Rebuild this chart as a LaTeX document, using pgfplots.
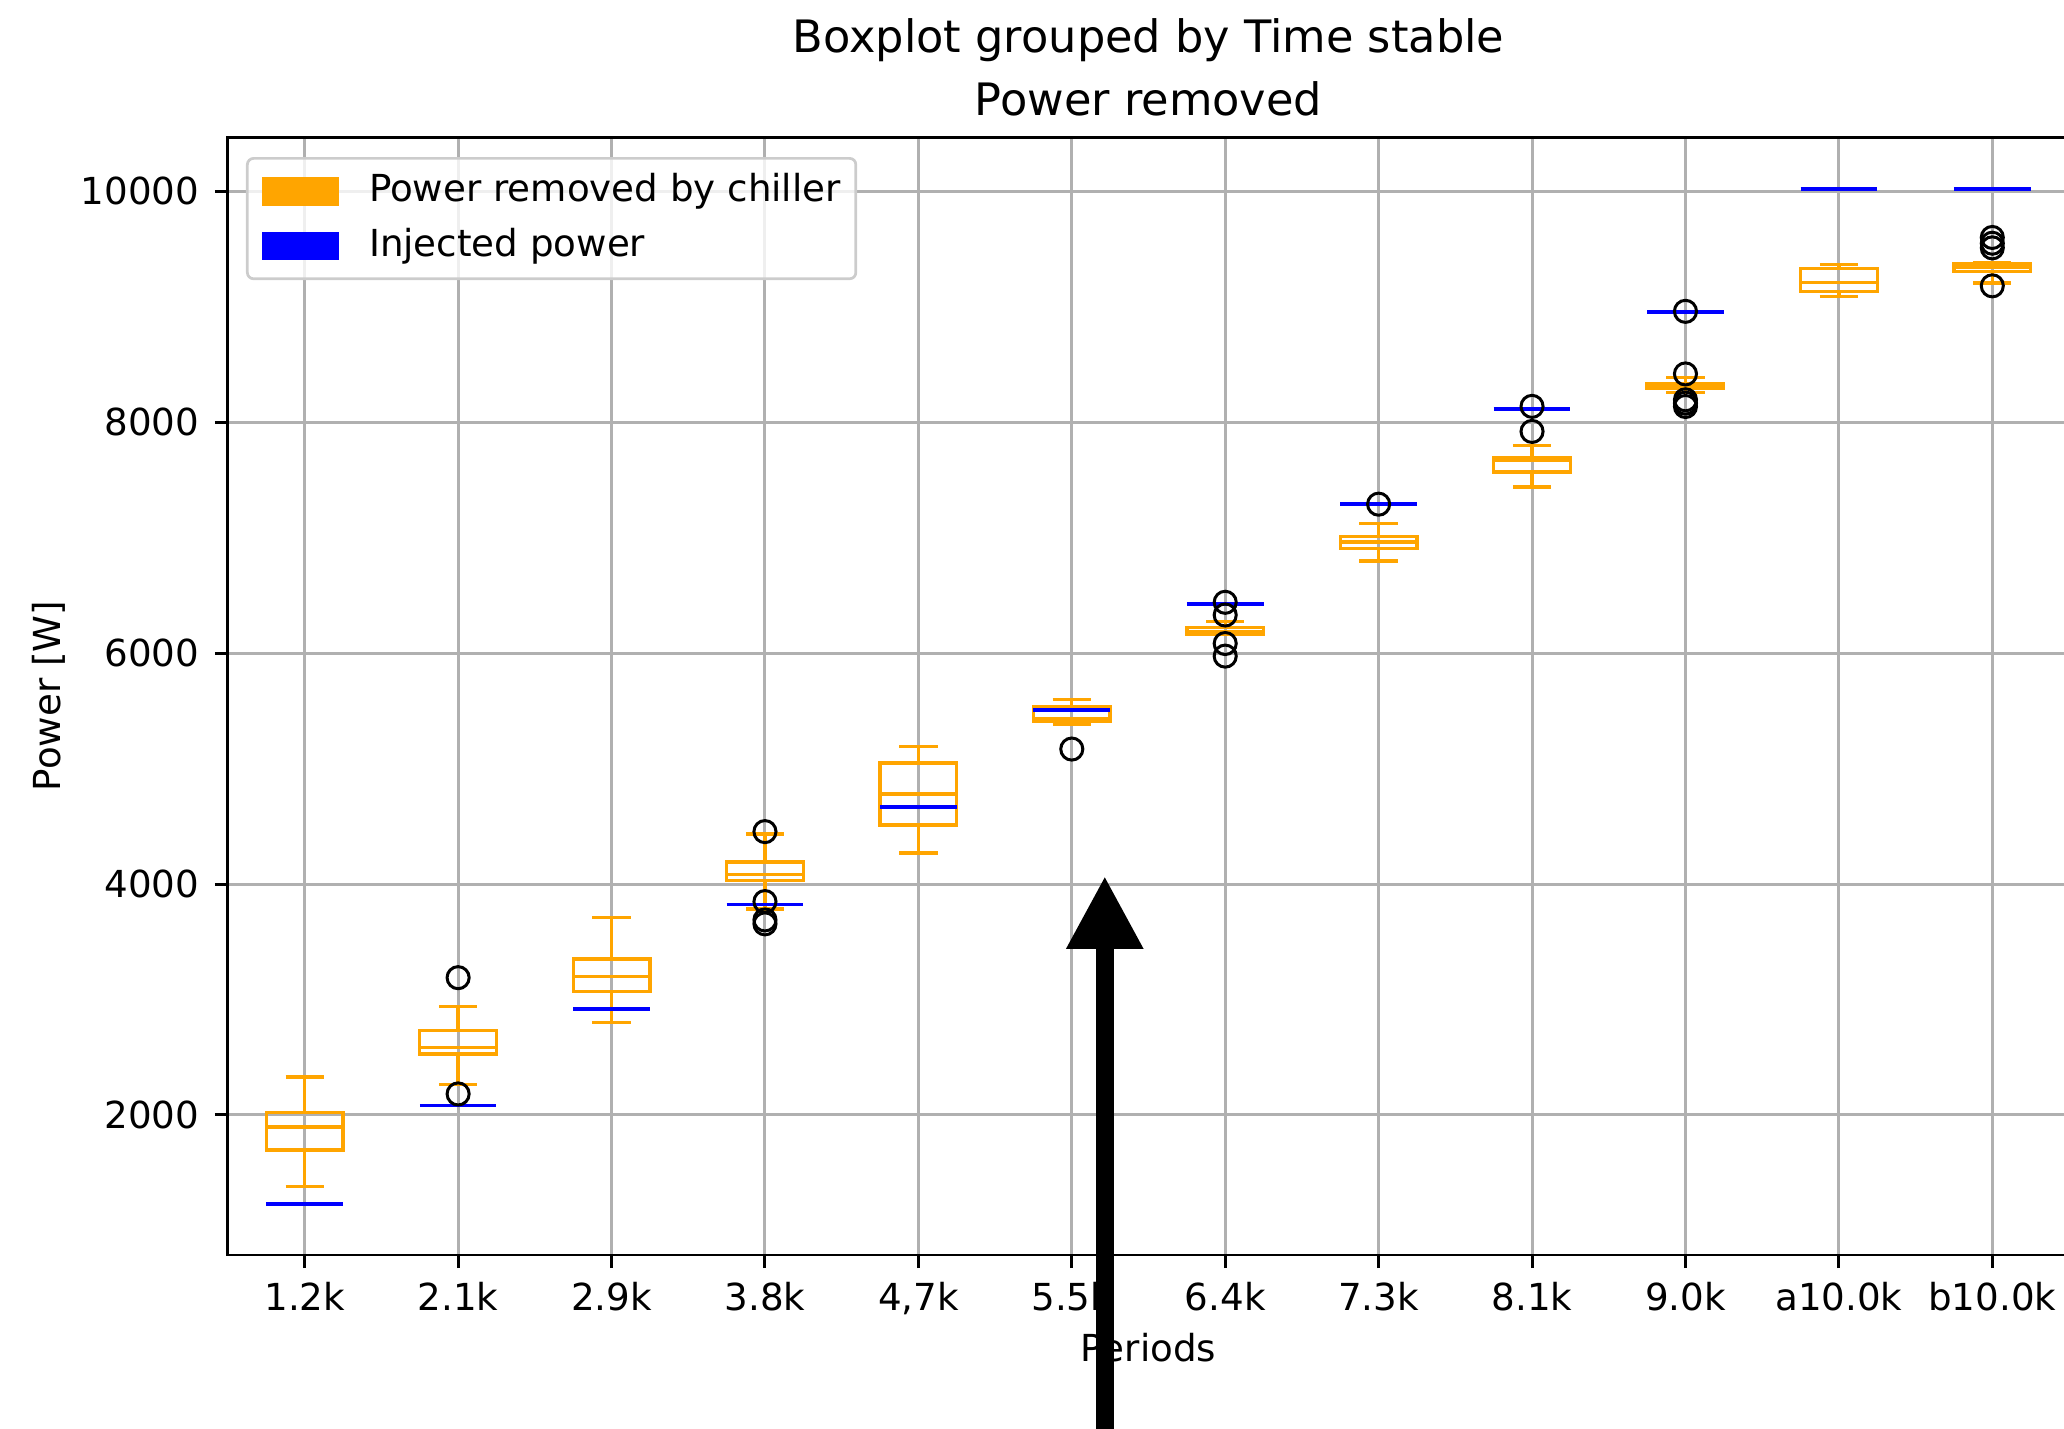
\documentclass[border=0pt]{standalone}
\usepackage{fontspec}
\setmainfont{DejaVu Sans}
\usepackage{pgfplots}
\pgfplotsset{compat=1.18}
\usepgfplotslibrary{statistics}
\usetikzlibrary{arrows.meta}
\definecolor{mplorange}{HTML}{FFA500}
\definecolor{mplblue}{HTML}{0000FF}
\definecolor{mplgrid}{HTML}{B0B0B0}
\pgfplotsset{bx/.style={forget plot, line width=0.8bp, boxplot/draw direction=y, boxplot/box extend=0.5, boxplot/whisker extend=0.25}}
\begin{document}
\fontsize{8.93bp}{10.7bp}\selectfont
\begin{tikzpicture}
\begin{axis}[
  name=ax,
  boxplot/draw direction=y,
  scale only axis, width=441.84bp, height=268.32bp,
  xmin=0.5, xmax=12.5, ymin=787, ymax=10470,
  xtick={1,2,3,4,5,6,7,8,9,10,11,12},
  xticklabels={1.2k,2.1k,2.9k,3.8k,{4,7k},5.5k,6.4k,7.3k,8.1k,9.0k,a10.0k,b10.0k},
  ytick={2000,4000,6000,8000,10000},
  yticklabels={2000,4000,6000,8000,10000},
  scaled y ticks=false, scaled x ticks=false,
  tick pos=left, tick align=outside, major tick length=3.12bp,
  tick style={black, line width=0.72bp},
  axis line style={line width=0.72bp},
  grid=major, major grid style={mplgrid, line width=0.72bp},
  xticklabel style={anchor=base, yshift=-10.25bp, inner sep=0pt},
  yticklabel style={anchor=east, xshift=-3.6bp, inner sep=0pt},
  xlabel={Periods}, ylabel={Power [W]},
  x label style={at={(axis description cs:0.5,-0.0954)}, anchor=base, inner sep=0pt},
  y label style={at={(axis description cs:-0.0912,0.5)}, anchor=base, inner sep=0pt},
  legend style={at={(0,1)}, anchor=north west, xshift=4.32bp, yshift=-4.8bp,
    draw=black!20, line width=0.65bp, rounded corners=1.5bp, fill=white, fill opacity=0.8, text opacity=1,
    inner xsep=3.6bp, inner ysep=3.5bp, row sep=4.4bp,
    nodes={inner sep=0pt, text height=0.76em, text depth=0.22em},
    /tikz/every odd column/.append style={column sep=7.2bp}},
  legend cell align=left,
]
\addlegendimage{legend image code/.code={\fill[mplorange, fill opacity=1, sharp corners] (0bp,-3.12bp) rectangle (17.76bp,3.12bp);}}
\addlegendentry{Power removed by chiller}
\addlegendimage{legend image code/.code={\fill[mplblue, fill opacity=1, sharp corners] (0bp,-3.12bp) rectangle (17.76bp,3.12bp);}}
\addlegendentry{Injected power}

% Power removed by chiller
\addplot[mplorange, bx, boxplot prepared={draw position=1, lower whisker=1379, lower quartile=1697, median=1896, upper quartile=2020, upper whisker=2329}] coordinates {};
\addplot[mplorange, bx, boxplot prepared={draw position=2, lower whisker=2262, lower quartile=2528, median=2583, upper quartile=2730, upper whisker=2941}] coordinates {};
\addplot[mplorange, bx, boxplot prepared={draw position=3, lower whisker=2800, lower quartile=3068, median=3198, upper quartile=3351, upper whisker=3711}] coordinates {};
\addplot[mplorange, bx, boxplot prepared={draw position=4, lower whisker=3785, lower quartile=4030, median=4080, upper quartile=4192, upper whisker=4432}] coordinates {};
\addplot[mplorange, bx, boxplot prepared={draw position=5, lower whisker=4270, lower quartile=4512, median=4781, upper quartile=5047, upper whisker=5191}] coordinates {};
\addplot[mplorange, bx, boxplot prepared={draw position=6, lower whisker=5379, lower quartile=5410, median=5431, upper quartile=5537, upper whisker=5601}] coordinates {};
\addplot[mplorange, bx, boxplot prepared={draw position=7, lower whisker=6160, lower quartile=6165, median=6190, upper quartile=6220, upper whisker=6271}] coordinates {};
\addplot[mplorange, bx, boxplot prepared={draw position=8, lower whisker=6798, lower quartile=6905, median=6962, upper quartile=7011, upper whisker=7120}] coordinates {};
\addplot[mplorange, bx, boxplot prepared={draw position=9, lower whisker=7439, lower quartile=7569, median=7667, upper quartile=7690, upper whisker=7799}] coordinates {};
\addplot[mplorange, bx, boxplot prepared={draw position=10, lower whisker=8259, lower quartile=8294, median=8316, upper quartile=8337, upper whisker=8386}] coordinates {};
\addplot[mplorange, bx, boxplot prepared={draw position=11, lower whisker=9086, lower quartile=9132, median=9210, upper quartile=9331, upper whisker=9366}] coordinates {};
\addplot[mplorange, bx, boxplot prepared={draw position=12, lower whisker=9205, lower quartile=9305, median=9340, upper quartile=9370, upper whisker=9385}] coordinates {};

% Injected power (constant per period: box collapses to a line)
\addplot[mplblue, line width=0.9bp, forget plot] coordinates {(0.75,1226) (1.25,1226)};
\addplot[mplblue, line width=0.9bp, forget plot] coordinates {(1.75,2081) (2.25,2081)};
\addplot[mplblue, line width=0.9bp, forget plot] coordinates {(2.75,2918) (3.25,2918)};
\addplot[mplblue, line width=0.9bp, forget plot] coordinates {(3.75,3822) (4.25,3822)};
\addplot[mplblue, line width=0.9bp, forget plot] coordinates {(4.75,4666) (5.25,4666)};
\addplot[mplblue, line width=0.9bp, forget plot] coordinates {(5.75,5508) (6.25,5508)};
\addplot[mplblue, line width=0.9bp, forget plot] coordinates {(6.75,6427) (7.25,6427)};
\addplot[mplblue, line width=0.9bp, forget plot] coordinates {(7.75,7290) (8.25,7290)};
\addplot[mplblue, line width=0.9bp, forget plot] coordinates {(8.75,8117) (9.25,8117)};
\addplot[mplblue, line width=0.9bp, forget plot] coordinates {(9.75,8957) (10.25,8957)};
\addplot[mplblue, line width=0.9bp, forget plot] coordinates {(10.75,10021) (11.25,10021)};
\addplot[mplblue, line width=0.9bp, forget plot] coordinates {(11.75,10021) (12.25,10021)};

% outliers
\addplot[forget plot, only marks, mark=o, mark size=2.65bp, mark options={black, line width=0.72bp}] coordinates {
(2,3189) (2,2182) (4,4454) (4,3848) (4,3689) (4,3655) (6,5169)
(7,6440) (7,6330) (7,6083) (7,5974) (8,7290) (9,8137) (9,7920)
(10,8960) (10,8418) (10,8194) (10,8165) (10,8136)
(12,9600) (12,9550) (12,9510) (12,9181)};

\coordinate (tip) at (axis cs:6.215,4070);
\coordinate (tail) at (axis cs:6.215,-1200);
\end{axis}
\node[anchor=base, yshift=5.2bp, font=\fontsize{10.72bp}{12.9bp}\selectfont] at (ax.north) {Power removed};
\node[anchor=base, yshift=20.2bp, font=\fontsize{10.72bp}{12.9bp}\selectfont] at (ax.north) {Boxplot grouped by Time stable};
\draw[black, line width=4.25bp, -{Triangle[width=17.3bp, length=17.5bp]}] (tail) -- (tip);
\pgfresetboundingbox
\useasboundingbox (-54.72bp,-41.76bp) rectangle (440.64bp,301.2bp);
\end{tikzpicture}
\end{document}
